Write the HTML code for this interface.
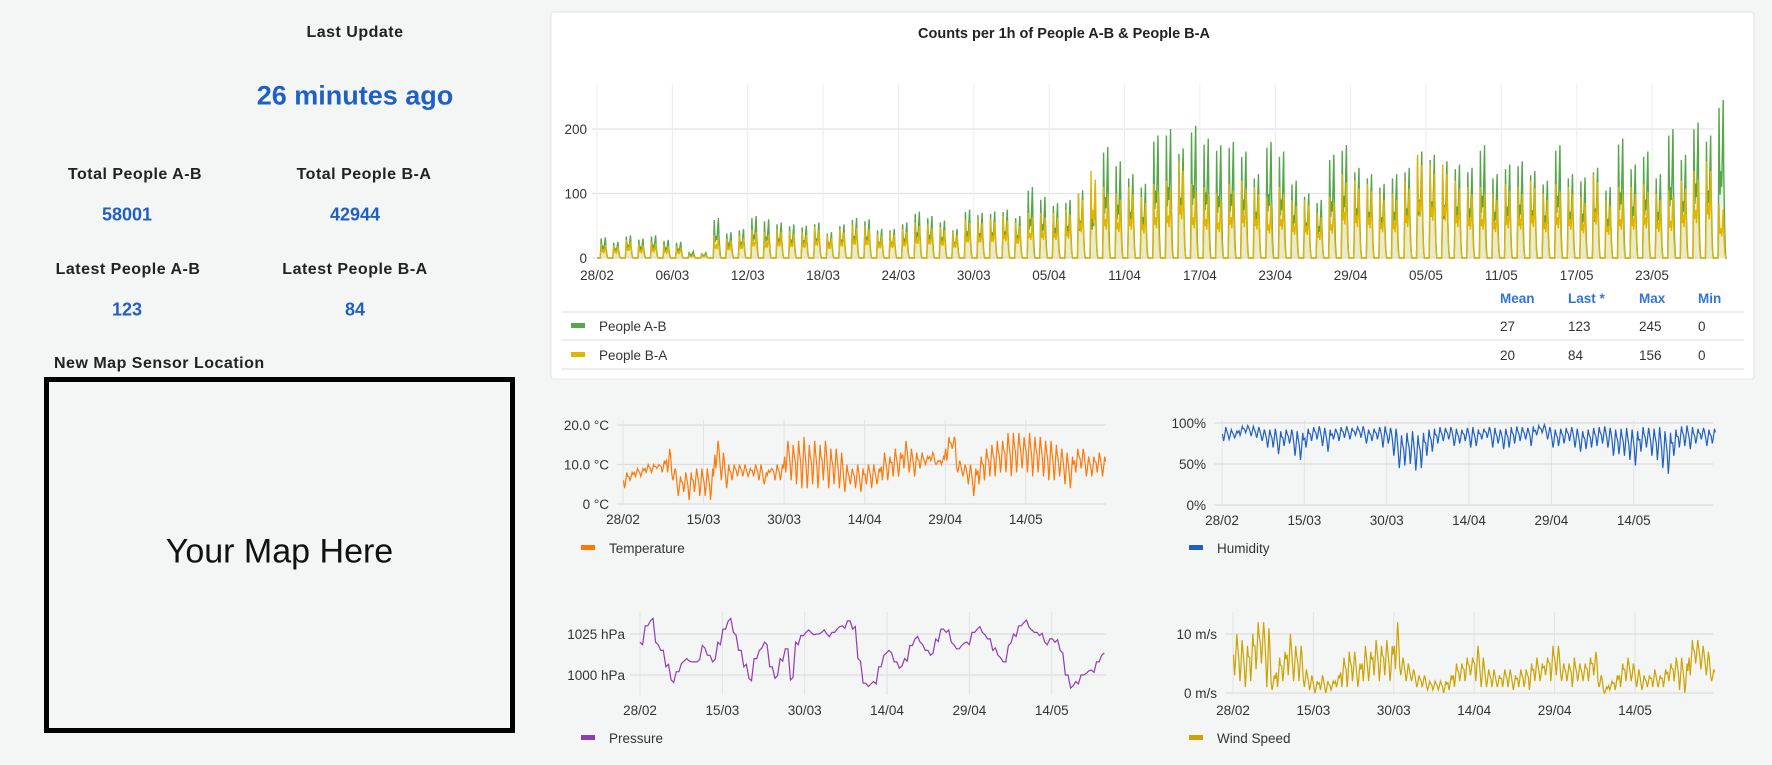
<!DOCTYPE html>
<html><head><meta charset="utf-8">
<style>
html,body{margin:0;padding:0;}
body{width:1772px;height:765px;background:#f4f5f5;position:relative;overflow:hidden;font-family:"Liberation Sans",Arial,sans-serif;}
.t{position:absolute;transform:translate(-50%,-50%);white-space:nowrap;}
.lbl{font-size:16px;color:#222;font-weight:bold;letter-spacing:0.5px;}
.val{font-size:18px;color:#1f60c4;font-weight:bold;}
#chart{position:absolute;left:0;top:0;}
</style></head><body>
<div class="t lbl" style="left:355px;top:33px">Last Update</div>
<div class="t" style="left:355px;top:96px;font-size:27px;color:#1f60c4;font-weight:bold">26 minutes ago</div>
<div class="t lbl" style="left:135px;top:175px">Total People A-B</div>
<div class="t lbl" style="left:364px;top:175px">Total People B-A</div>
<div class="t val" style="left:127px;top:215px">58001</div>
<div class="t val" style="left:355px;top:215px">42944</div>
<div class="t lbl" style="left:128px;top:270px">Latest People A-B</div>
<div class="t lbl" style="left:355px;top:270px">Latest People B-A</div>
<div class="t val" style="left:127px;top:310px">123</div>
<div class="t val" style="left:355px;top:310px">84</div>
<div class="lbl" style="position:absolute;left:54px;top:355px;">New Map Sensor Location</div>
<div style="position:absolute;left:44px;top:377px;width:461px;height:346px;border:5px solid #000">
<div class="t" style="left:50%;top:49%;font-size:34px;color:#111">Your Map Here</div></div>

<svg id="chart" width="1772" height="765" xmlns="http://www.w3.org/2000/svg" font-family="Liberation Sans, Arial, sans-serif">
<rect x="551" y="12" width="1203" height="367" rx="3" fill="#fff" stroke="#e4e4e4"/>
<text x="1064" y="38" text-anchor="middle" font-size="14.5" font-weight="bold" fill="#222">Counts per 1h of People A-B &amp; People B-A</text>
<g id="g"></g>
</svg>
<script>
// ----- data (daily peak hourly counts, 28/02 .. 28/05) -----
const dayLabels = ["28/02","06/03","12/03","18/03","24/03","30/03","05/04","11/04","17/04","23/04","29/04","05/05","11/05","17/05","23/05"];
const peopleAB = [32,25,35,30,35,28,25,10,8,62, 40,45,65,60,55,52,50,55,40,52, 62,60,45,45,55,72,65,58,45,75, 70,72,75,65,110,95,85,90,105,110, 172,150,130,115,190,200,170,205,185,175, 180,165,130,180,165,120,100,90,160,175, 140,130,115,130,140,165,160,150,145,140, 175,130,145,150,135,120,175,130,125,140, 110,185,145,165,130,200,160,210,190,245];
const peopleBA = [22,20,28,22,25,20,18,5,5,35, 30,35,45,40,45,42,40,48,35,45, 52,50,38,40,45,55,52,48,40,60, 60,62,65,55,70,70,70,75,100,135, 110,100,110,95,115,120,150,115,110,100, 115,120,110,95,110,90,90,70,95,130, 120,115,100,100,120,160,145,145,120,110, 110,100,115,110,120,100,115,110,95,130, 90,110,110,115,100,105,120,135,150,84];
const peopleTicks = [0,100,200];
const legendHeaders = ["Mean","Last *","Max","Min"];
const statsAB = ["27","123","245","0"];
const statsBA = ["20","84","156","0"];
const weatherTickLabels = ["28/02","15/03","30/03","14/04","29/04","14/05"];
const tempMin = [4,6,7,7,8,8,9,8, 8,6,2,3,1,3,2,2, 1,9,6,4,6,7,7,7, 7,6,5,8,6,6,8,6, 5,4,4,5,4,6,4,5, 4,3,5,4,3,5,4,5, 6,6,7,7,9,8,7,9, 10,11,10,10,11,14,8,7, 5,2,5,6,7,7,8,8, 7,8,9,8,7,8,7,6, 6,7,5,4,8,9, 7,7,8,7];
const tempMax = [8,8,9,9,10,10,10,11, 14,9,7,8,8,9,9,9, 9,16,13,10,10,10,10,9, 10,10,8,9,10,10,16,15, 16,17,15,16,15,16,14,14, 13,10,9,10,9,10,10,9, 13,12,14,13,16,14,13,13, 12,13,11,12,17,17,11,10, 10,9,12,14,15,16,16,18, 18,18,17,18,17,17,16,16, 15,14,13,12,14,14, 12,12,13,12];
const tempTicks = [0,10,20];
const humMin = [78,80,82,85,88,84,82,78,70,70, 62,72,75,60,55,70,78,80,72,65, 80,78,82,80,85,82,75,78,80,70, 75,60,45,48,50,42,45,60,65,75, 78,80,72,75,78,70,72,80,82,70, 75,68,70,75,78,80,72,85,88,80, 70,72,75,78,70,65,68,70,72,75, 70,60,62,60,55,48,65,70,60,55, 45,38,60,70,72,68,75,80,72,75];
const humMax = [95,92,90,96,97,96,95,92,92,93, 90,92,92,90,88,93,95,96,94,92, 93,95,96,94,95,96,92,93,95,96, 94,93,85,88,90,85,88,92,93,95, 94,95,93,92,94,95,92,93,95,94, 92,93,95,96,95,94,96,97,98,95, 92,93,94,95,93,90,92,94,95,96, 94,92,93,94,92,90,95,94,93,95, 90,88,92,96,97,95,93,94,92,93];
const humTicks = [0,50,100];
const pressure = [1020,1030,1033,1020,1015,1005,997,1002,1007,1010, 1008,1008,1018,1012,1008,1020,1028,1033,1026,1015, 1005,998,1010,1015,1020,1005,998,1010,1016,997, 1020,1024,1026,1026,1025,1026,1025,1026,1028,1030, 1033,1028,1010,995,993,996,1005,1012,1015,1008, 1004,1010,1018,1022,1020,1015,1012,1022,1028,1026, 1020,1016,1018,1020,1026,1028,1026,1022,1015,1012, 1008,1018,1025,1030,1032,1029,1026,1024,1020,1022, 1020,1015,1000,992,996,1000,1001,1003,1008,1012];
const pressTicks = [1000,1025];
const windMin = [3,2,1,2,4,5,1,0.5,1,2, 3,2,2,1,0.5,0,0.5,0,0.5,1, 1,1,2,1,2,2,3,2,3,2, 4,3,2,2,1,1,0.5,0.5,0.5,0, 0.5,1,2,2,3,2,1,1,1,1, 1,1,0.5,1,1,0.5,2,2,3,2, 3,2,2,1,2,2,2,3,1,0, 0.5,0.5,1,2,2,1,0.5,1,1,1, 1,2,2,0.5,0,3,5,4,3,2];
const windMax = [10,9,8,10,12,12,11,3,6,7, 10,8,8,4,3,2,3,2,2,3, 6,7,7,5,8,7,9,8,9,8, 12,6,5,4,3,3,2,2,2,2, 3,5,5,6,6,8,6,4,4,3, 4,4,3,4,4,5,6,5,6,8, 8,5,5,6,5,5,6,7,3,1, 2,3,5,6,5,4,3,3,4,3, 4,5,6,6,5,9,9,8,7,4];
const windTicks = [0,10];

const NS="http://www.w3.org/2000/svg";
const G=document.getElementById('g');
function mk(tag,attrs,parent){const e=document.createElementNS(NS,tag);for(const k in attrs)e.setAttribute(k,attrs[k]);(parent||G).appendChild(e);return e;}
function txt(x,y,s,size,fill,anchor,parent){const e=mk('text',{x:x,y:y,'font-size':size,fill:fill,'text-anchor':anchor||'start'},parent);e.textContent=s;return e;}

// ---------- People chart ----------
const px=d=>597+d*12.56, py=v=>258-v*0.645;
peopleTicks.forEach(v=>{
  const l=mk('line',{x1:592,x2:1714,y1:py(v),y2:py(v),stroke:'#e3e3e3','stroke-width':1.3});
  
  
  const t=txt(587,py(v)+5,String(v),13.5,'#333','end');
  
  
});
dayLabels.forEach((s,i)=>{
  const x=px(i*6);
  const l=mk('line',{x1:x,x2:x,y1:84,y2:258,stroke:'#ececec'});
  
  
  const t=txt(x,280,s,13.5,'#333','middle');
  
  
});
const prof=[0,0,0,0,0,0,0,0.35,0.95,0.6,0.4,0.55,0.5,0.45,0.6,0.8,1,0.55,0.35,0.15,0.05,0,0,0];
const prof2=[0,0,0,0,0,0,0,0.3,1,0.5,0.45,0.5,0.55,0.4,0.5,0.7,0.9,0.6,0.3,0.12,0.05,0,0,0];
function daySeries(arr,p){let pts=[];arr.forEach((v,d)=>{for(let h=0;h<24;h++){pts.push([px(d+h/24),py(v*p[h])]);}});return pts;}
function drawSeries(pts,color,name){
  const dstr='M'+pts.map(p=>p[0].toFixed(2)+','+p[1].toFixed(2)).join('L');
  const a=mk('path',{d:dstr+'L'+pts[pts.length-1][0]+','+py(0)+'L'+pts[0][0]+','+py(0)+'Z',fill:color,'fill-opacity':0.12,stroke:'none'});
  
  
  const l=mk('path',{d:dstr,fill:'none',stroke:color,'stroke-width':1.4});
  
  
}
drawSeries(daySeries(peopleAB,prof),'#56a64b','people-ab');
drawSeries(daySeries(peopleBA,prof2),'#e0b400','people-ba');
// legend table
const colX=[1500,1568,1639,1698];
legendHeaders.forEach((h,i)=>{const t=txt(colX[i],303,h,13.5,'#3274d9');t.setAttribute('font-weight','bold');
  
  });
[312,340,369].forEach(y=>{const l=mk('line',{x1:562,x2:1744,y1:y,y2:y,stroke:'#e4e4e4','stroke-width':1.2});
  
  });
[[statsAB,'#56a64b','People A-B',326],[statsBA,'#e0b400','People B-A',355]].forEach(([st,c,n,y])=>{
  const r=mk('rect',{x:571,y:y-3,width:14,height:5,fill:c});
  
  
  const t=txt(599,y+5,n,13.5,'#333');
  
  
  st.forEach((s,i)=>{const v=txt(colX[i],y+5,s,13.5,'#333');
    
    });
});

// ---------- small weather charts ----------
function small(cfg){
  const X=d=>cfg.x0+d*cfg.dx, Y=v=>cfg.y0-(v-cfg.base)*cfg.sy;
  const ds=cfg.dayScale||1;
  const g=mk('g',{});
  
  
  weatherTickLabels.forEach((s,i)=>{const x=X(i*15);
    const l=mk('line',{x1:x,x2:x,y1:cfg.top,y2:cfg.bottom,stroke:'#e2e2e2'},g);
    
    
    const t=txt(x,cfg.bottom+20,s,13.5,'#333','middle',g);
    
    });
  cfg.ticks.forEach((v,i)=>{
    const l=mk('line',{x1:cfg.left,x2:cfg.right,y1:Y(v),y2:Y(v),stroke:'#dedede','stroke-width':1.3},g);
    
    
    const t=txt(cfg.lx,Y(v)+5,cfg.fmt(v),13.5,'#333','end',g);
    
    });
  let pts=[];
  if(cfg.single){cfg.single.forEach((v,d)=>{pts.push([X(d*ds),Y(v)]);pts.push([X((d+0.5)*ds),Y(v+((d%3)-1)*1.5)]);});}
  else{cfg.mn.forEach((v,d)=>{const m=cfg.mx[d];
    pts.push([X(d+0.1),Y((v+m)/2)]);pts.push([X(d+0.3),Y(v)]);pts.push([X(d+0.45),Y(v+(m-v)*0.3)]);pts.push([X(d+0.7),Y(m)]);pts.push([X(d+0.85),Y(m-(m-v)*0.25)]);});}
  const p=mk('path',{d:'M'+pts.map(q=>q[0].toFixed(1)+','+q[1].toFixed(1)).join('L'),fill:'none',stroke:cfg.color,'stroke-width':1.2},g);
  
  
  const r=mk('rect',{x:cfg.legx,y:cfg.legy-3,width:14,height:5,fill:cfg.color},g);
  
  
  const t=txt(cfg.legx+28,cfg.legy+5,cfg.label,13.5,'#333','start',g);
  
  
}
small({name:'temperature',x0:623,dx:5.37,y0:504,base:0,sy:3.95,top:420,bottom:504,left:617,right:1106,lx:609,ticks:tempTicks,fmt:v=>v===0?'0 °C':v.toFixed(1)+' °C',mn:tempMin,mx:tempMax,color:'#ff780a',legx:581,legy:548,label:'Temperature'});
small({name:'humidity',x0:1222,dx:5.49,y0:505,base:0,sy:0.82,top:420,bottom:505,left:1214,right:1713,lx:1206,ticks:humTicks,fmt:v=>v+'%',mn:humMin,mx:humMax,color:'#1f60c4',legx:1189,legy:548,label:'Humidity'});
small({name:'pressure',x0:640,dx:5.49,dayScale:0.945,y0:675,base:1000,sy:1.64,top:612,bottom:695,left:630,right:1106,lx:625,ticks:pressTicks,fmt:v=>v+' hPa',single:pressure,color:'#8f3bb8',legx:581,legy:738,label:'Pressure'});
small({name:'wind-speed',x0:1233,dx:5.36,y0:693,base:0,sy:5.9,top:612,bottom:695,left:1225,right:1713,lx:1217,ticks:windTicks,fmt:v=>v+' m/s',mn:windMin,mx:windMax,color:'#cca300',legx:1189,legy:738,label:'Wind Speed'});
</script>
</body></html>
